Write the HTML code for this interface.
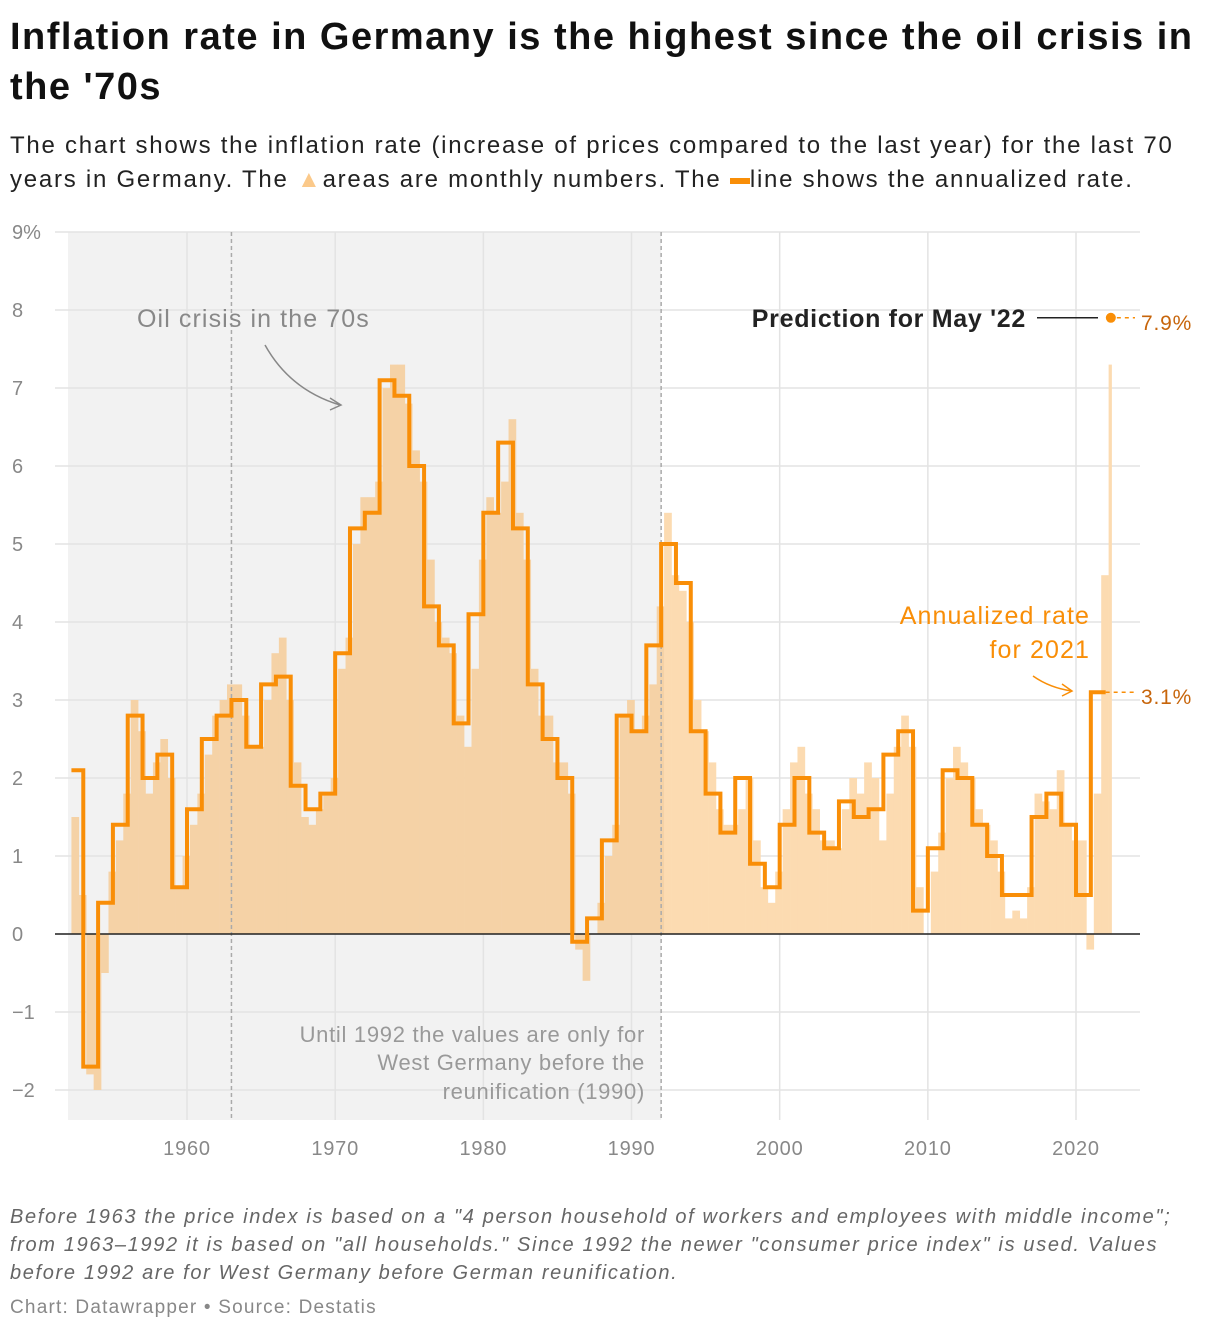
<!DOCTYPE html>
<html><head><meta charset="utf-8"><style>
body{margin:0;background:#fff;font-family:"Liberation Sans",sans-serif;}
#wrap{position:relative;width:1220px;height:1332px;overflow:hidden}
.t{position:absolute;white-space:nowrap}
</style></head><body><div id="wrap">
<div class="t" style="left:10px;top:12px;font-size:38px;font-weight:bold;line-height:50px;color:#111;letter-spacing:1.5px">Inflation rate in Germany is the highest since the oil crisis in<br>the '70s</div>
<div class="t" style="left:10px;top:129px;font-size:24px;line-height:34px;color:#222;letter-spacing:1.75px">The chart shows the inflation rate (increase of prices compared to the last year) for the last 70<br>years in Germany. The <span style="color:#fbc98a">▲</span>areas are monthly numbers. The <span style="display:inline-block;width:20px;height:6px;background:#f98e07;vertical-align:middle"></span>line shows the annualized rate.</div>
<svg id="chart" width="1220" height="1180" style="position:absolute;left:0;top:0"></svg>
<div class="t" style="left:10px;top:1203px;font-size:20px;line-height:28px;color:#666;font-style:italic;letter-spacing:1.65px">Before 1963 the price index is based on a "4 person household of workers and employees with middle income";<br>from 1963–1992 it is based on "all households." Since 1992 the newer "consumer price index" is used. Values<br>before 1992 are for West Germany before German reunification.</div>
<div class="t" style="left:10px;top:1297px;font-size:19px;color:#888;letter-spacing:1.2px">Chart: Datawrapper • Source: Destatis</div>
</div>
<script>
const yTicks=[9,8,7,6,5,4,3,2,1,0,-1,-2];
const xTicks=[1960,1970,1980,1990,2000,2010,2020];
const annualYears=[1952,1953,1954,1955,1956,1957,1958,1959,1960,1961,1962,1963,1964,1965,1966,1967,1968,1969,1970,1971,1972,1973,1974,1975,1976,1977,1978,1979,1980,1981,1982,1983,1984,1985,1986,1987,1988,1989,1990,1991,1992,1993,1994,1995,1996,1997,1998,1999,2000,2001,2002,2003,2004,2005,2006,2007,2008,2009,2010,2011,2012,2013,2014,2015,2016,2017,2018,2019,2020,2021];
const annualRates=[2.1,-1.7,0.4,1.4,2.8,2.0,2.3,0.6,1.6,2.5,2.8,3.0,2.4,3.2,3.3,1.9,1.6,1.8,3.6,5.2,5.4,7.1,6.9,6.0,4.2,3.7,2.7,4.1,5.4,6.3,5.2,3.2,2.5,2.0,-0.1,0.2,1.2,2.8,2.6,3.7,5.0,4.5,2.6,1.8,1.3,2.0,0.9,0.6,1.4,2.0,1.3,1.1,1.7,1.5,1.6,2.3,2.6,0.3,1.1,2.1,2.0,1.4,1.0,0.5,0.5,1.5,1.8,1.4,0.5,3.1];
const areaStart=1952.2;
const areaRates=[1.5,0.5,-1.8,-2.0,-0.5,0.8,1.2,1.8,3.0,2.6,1.8,2.2,2.5,2.0,0.6,1.0,1.4,1.8,2.3,2.8,3.0,3.2,3.2,2.8,2.4,2.4,3.0,3.6,3.8,3.0,2.2,1.5,1.4,1.6,1.8,2.0,3.4,3.8,5.0,5.6,5.6,5.8,7.0,7.3,7.3,6.8,6.2,5.8,4.8,4.0,3.8,3.6,2.8,2.4,3.4,4.8,5.6,5.4,5.8,6.6,5.4,4.8,3.4,2.8,2.8,2.2,2.2,1.8,-0.2,-0.6,0.0,0.4,1.0,1.4,2.8,3.0,2.6,2.8,3.2,4.2,5.4,4.6,4.4,4.0,3.0,2.6,2.2,1.6,1.4,1.4,1.6,2.0,1.2,0.6,0.4,0.8,1.6,2.2,2.4,1.8,1.6,1.2,1.2,1.1,1.6,2.0,1.8,2.2,2.0,1.2,1.8,2.4,2.8,2.4,0.6,0.0,0.8,1.3,2.0,2.4,2.2,2.0,1.6,1.4,1.2,0.8,0.2,0.3,0.2,0.6,1.8,1.7,1.6,2.1,1.4,1.2,1.2,-0.2,1.8,4.6,7.3];
const mayValue=7.9;

const X=y=>187+(y-1960)*14.817;
const Y=v=>934-v*78;
const svg=document.getElementById('chart');
const NS='http://www.w3.org/2000/svg';
function mk(tag,a,parent){const e=document.createElementNS(NS,tag);for(const k in a)e.setAttribute(k,a[k]);(parent||svg).appendChild(e);return e;}
let e;
e=mk('rect',{x:68,y:232,width:X(1992)-68,height:888,fill:'#f2f2f2'});


yTicks.forEach(v=>{
 e=mk('line',{x1:55,x2:1140,y1:Y(v),y2:Y(v),stroke:'#e3e3e3','stroke-width':1.5});
 
 
 e=mk('text',{x:12,y:Y(v)+7,'font-size':20,fill:'#888','font-family':'Liberation Sans'});
 e.textContent=v===9?'9%':(v<0?'−'+(-v):v);
 
 
});
xTicks.forEach(t=>{
 e=mk('line',{x1:X(t),x2:X(t),y1:232,y2:1120,stroke:'#e3e3e3','stroke-width':1.5});
 
 
 e=mk('text',{x:X(t),y:1155,'font-size':20,fill:'#888','text-anchor':'middle','font-family':'Liberation Sans','letter-spacing':'0.8'});
 e.textContent=t;
 
 
});
areaRates.forEach((v,i)=>{
 const y0=areaStart+i*0.5;
 const x0=X(y0),x1=X(Math.min(y0+0.5,2022.4));
 e=mk('rect',{x:x0,width:x1-x0+0.3,y:Math.min(Y(v),Y(0)),height:Math.abs(Y(v)-Y(0)),fill:y0<1992?'#f5d2a6':'#fcdbb1'});
 
 
});
[1963,1992].forEach(t=>{
 e=mk('line',{x1:X(t),x2:X(t),y1:232,y2:1120,stroke:'#aaa','stroke-width':1.5,'stroke-dasharray':'4,3'});
 
 
});
e=mk('line',{x1:55,x2:1140,y1:Y(0),y2:Y(0),stroke:'#222','stroke-width':1.5});


let d='';
annualYears.forEach((yr,i)=>{
 const s=i===0?areaStart:yr;
 d+=(i===0?'M':'L')+X(s)+','+Y(annualRates[i])+'L'+X(yr+1)+','+Y(annualRates[i]);
});
e=mk('path',{d:d,fill:'none',stroke:'#f98e07','stroke-width':4,'stroke-linejoin':'miter'});


const last=annualRates[annualRates.length-1];
e=mk('line',{x1:X(2022),x2:1135,y1:Y(last),y2:Y(last),stroke:'#f98e07','stroke-width':1.5,'stroke-dasharray':'4,4'});


e=mk('text',{x:1141,y:Y(last)+12,'font-size':21,fill:'#c7650b','font-family':'Liberation Sans','letter-spacing':'0.8'});
e.textContent=last+'%';


const my=Y(mayValue);
e=mk('circle',{cx:X(2022.35),cy:my,r:5,fill:'#f98e07'});


e=mk('line',{x1:X(2022.35)+6,x2:1135,y1:my,y2:my,stroke:'#f98e07','stroke-width':1.5,'stroke-dasharray':'4,4'});


e=mk('text',{x:1141,y:my+12,'font-size':21,fill:'#c7650b','font-family':'Liberation Sans','letter-spacing':'0.8'});
e.textContent=mayValue+'%';


e=mk('line',{x1:1037,x2:1098,y1:my,y2:my,stroke:'#222','stroke-width':1.5});


e=mk('text',{x:1026,y:my+9,'font-size':25,'font-weight':'bold',fill:'#222','text-anchor':'end','font-family':'Liberation Sans','letter-spacing':'0.7'});
e.textContent="Prediction for May '22";


e=mk('text',{x:137,y:327,'font-size':25,fill:'#888','font-family':'Liberation Sans','letter-spacing':'1.1'});
e.textContent='Oil crisis in the 70s';


e=mk('path',{d:'M265,345 Q290,390 340,405 M330,398 L341,405 L330,410',fill:'none',stroke:'#888','stroke-width':1.5});


[['Annualized rate',624],['for 2021',658]].forEach(([s,y])=>{
 e=mk('text',{x:1090,y:y,'font-size':25,fill:'#f98e07','text-anchor':'end','font-family':'Liberation Sans','letter-spacing':'1.1'});
 e.textContent=s;
 
 
});
e=mk('path',{d:'M1033,676 Q1050,688 1072,691 M1062,684 L1072,691 L1062,696',fill:'none',stroke:'#f98e07','stroke-width':1.5});


[['Until 1992 the values are only for',1042],['West Germany before the',1070],['reunification (1990)',1099]].forEach(([s,y])=>{
 e=mk('text',{x:645,y:y,'font-size':22,fill:'#999','text-anchor':'end','font-family':'Liberation Sans','letter-spacing':'0.7'});
 e.textContent=s;
 
 
});
</script></body></html>
